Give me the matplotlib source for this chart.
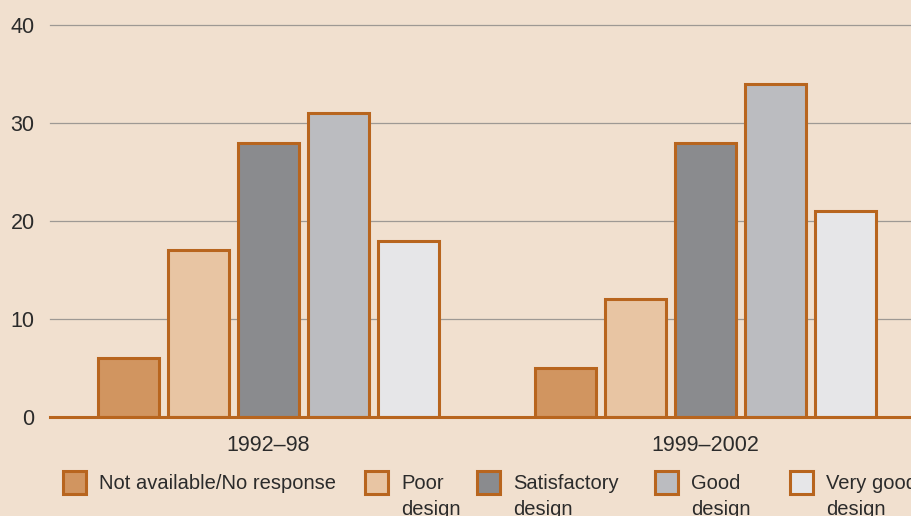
import matplotlib
matplotlib.use("Agg")
import matplotlib.pyplot as plt
from matplotlib.patches import Rectangle
import numpy as np

plt.rcParams['font.family'] = ['Liberation Sans', 'DejaVu Sans']

periods = ["1992–98", "1999–2002"]
categories = ["Not available/No response", "Poor\ndesign", "Satisfactory\ndesign",
              "Good\ndesign", "Very good\ndesign"]
values = {
    "Not available/No response": [6, 5],
    "Poor\ndesign": [17, 12],
    "Satisfactory\ndesign": [28, 28],
    "Good\ndesign": [31, 34],
    "Very good\ndesign": [18, 21],
}
yticks = [0, 10, 20, 30, 40]

bg = "#F1E0CF"
edge = "#B8651E"
colors = ["#D19560", "#E8C5A3", "#8A8B8E", "#BBBCC0", "#E6E6E8"]
text_color = "#2B2B2B"

W, H = 912, 516
fig = plt.figure(figsize=(W / 100, H / 100), dpi=100, facecolor=bg)
ax = fig.add_axes([50 / W, (H - 417) / H, (W - 50) / W, (417 - 25) / H], facecolor=bg)

x = np.arange(len(periods))
step = 0.160
width = 0.140
for i, cat in enumerate(categories):
    ax.bar(x + (i - 2) * step, values[cat], width, color=colors[i],
           edgecolor=edge, linewidth=2.2, zorder=3)

ax.set_xlim(-0.5, 1.4725)
ax.set_ylim(0, 40)
for v in yticks[1:]:
    ax.axhline(v, color="#9E9994", linewidth=0.9, zorder=1, clip_on=False)
ax.axhline(0, color=edge, linewidth=2.2, zorder=4, clip_on=False)

for s in ax.spines.values():
    s.set_visible(False)
ax.set_yticks(yticks)
ax.set_yticklabels([str(v) for v in yticks], fontsize=15.5, color=text_color)
ax.tick_params(axis='y', length=0, pad=11)
ax.set_xticks(x)
ax.set_xticklabels(periods, fontsize=15.5, color=text_color)
ax.tick_params(axis='x', length=0, pad=13)

# legend row
def fx(px):
    return px / W

def fy(py):
    return 1 - py / H

patch_x = [63, 365, 477, 655, 790]
box = 23
for i, cat in enumerate(categories):
    rect = Rectangle((fx(patch_x[i]), fy(471 + box)), box / W, box / H,
                     transform=fig.transFigure, facecolor=colors[i],
                     edgecolor=edge, linewidth=2.2)
    fig.patches.append(rect)
    fig.text(fx(patch_x[i] + 36), fy(474), cat, fontsize=14.5, color=text_color,
             ha='left', va='top', linespacing=1.45)

fig.savefig("out.png", dpi=100, facecolor=bg)
